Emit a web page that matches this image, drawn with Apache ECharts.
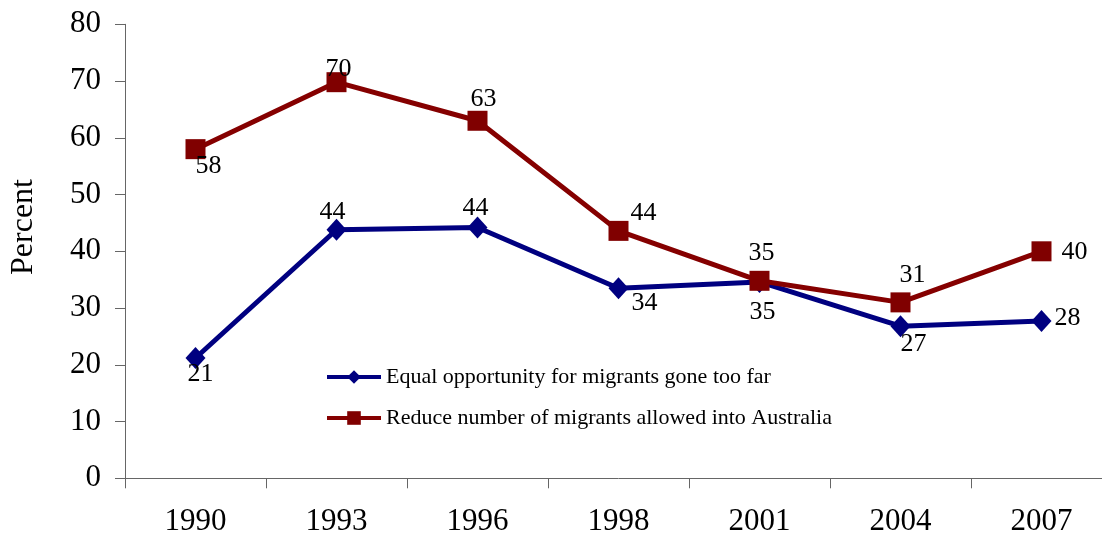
<!DOCTYPE html>
<html>
<head>
<meta charset="utf-8">
<script src="https://cdn.jsdelivr.net/npm/echarts@6/dist/echarts.min.js"></script>
<style>html,body{margin:0;padding:0;background:#fff;overflow:hidden}#c{width:1112px;height:541px}</style>
</head>
<body>
<div id="c"></div>
<script>
var years = ['1990','1993','1996','1998','2001','2004','2007'];
var equalOpportunity = [21.2, 43.8, 44.2, 33.5, 34.6, 26.8, 27.7];
var reduceMigrants = [58.0, 69.8, 63.0, 43.6, 34.8, 31.0, 40.0];
var seriesNames = ['Equal opportunity for migrants gone too far', 'Reduce number of migrants allowed into Australia'];
var yTicks = {min: 0, max: 80, interval: 10};

// label offsets (placement only)
var blueOffsets = [[5,16],[-4,-18],[-2,-19],[26,15],[3,30],[13,18],[26,-3]];
var redOffsets = [[13,17],[2,-13],[6,-22],[25,-18],[2,-28],[12,-27],[33,1]];

var FONT = '"Liberation Serif","Times New Roman",serif';

function mk(vals, offs) {
  return vals.map(function (v, i) {
    return {value: v, label: {offset: offs[i]}};
  });
}

var chart = echarts.init(document.getElementById('c'), null, {renderer: 'canvas'});
chart.setOption({
  animation: false,
  backgroundColor: '#fff',
  textStyle: {fontFamily: FONT},
  grid: {left: 125, top: 24.3, right: 0, bottom: 62.7, containLabel: false},
  legend: {
    orient: 'vertical', left: 320, top: 361, itemWidth: 54, itemHeight: 17, itemGap: 19,
    lineStyle: {width: 4},
    textStyle: {fontFamily: FONT, fontSize: 22, color: '#000'},
    data: seriesNames
  },
  graphic: [{
    type: 'text', x: 24, y: 227, rotation: Math.PI / 2,
    style: {text: 'Percent', font: '32px ' + FONT, fill: '#000', align: 'center', verticalAlign: 'middle'}
  }],
  xAxis: {
    type: 'category', data: years, boundaryGap: true,
    axisLine: {lineStyle: {color: '#666', width: 1}},
    axisTick: {show: true, length: 10, inside: false, alignWithLabel: false, lineStyle: {color: '#666'}},
    axisLabel: {fontFamily: FONT, fontSize: 31, color: '#000', margin: 28},
    splitLine: {show: false}
  },
  yAxis: {
    type: 'value', min: yTicks.min, max: yTicks.max, interval: yTicks.interval,
    axisLine: {show: true, lineStyle: {color: '#666', width: 1}},
    axisTick: {show: true, length: 10, lineStyle: {color: '#666'}},
    axisLabel: {fontFamily: FONT, fontSize: 31, color: '#000', margin: 24},
    splitLine: {show: false}
  },
  series: [{
    name: seriesNames[0], type: 'line', data: mk(equalOpportunity, blueOffsets),
    symbol: 'diamond', symbolSize: [20, 22],
    lineStyle: {color: '#000080', width: 5}, itemStyle: {color: '#000080'},
    label: {show: true, position: 'inside', fontFamily: FONT, fontSize: 26, color: '#000',
      formatter: function (p) { return Math.round(p.value); }},
    z: 2
  }, {
    name: seriesNames[1], type: 'line', data: mk(reduceMigrants, redOffsets),
    symbol: 'rect', symbolSize: 20,
    lineStyle: {color: '#850000', width: 5}, itemStyle: {color: '#800000'},
    label: {show: true, position: 'inside', fontFamily: FONT, fontSize: 26, color: '#000',
      formatter: function (p) { return Math.round(p.value); }},
    z: 3
  }]
});
</script>
</body>
</html>
